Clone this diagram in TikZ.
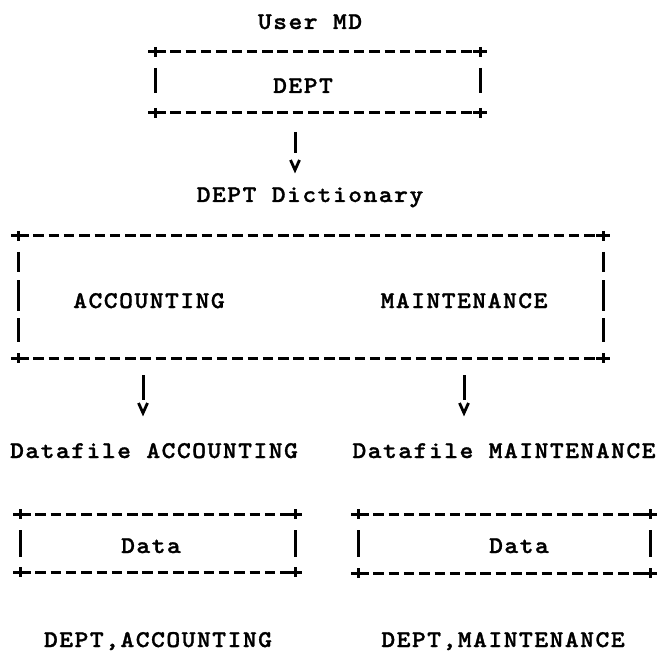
\documentclass[tikz,border=0pt]{standalone}
\usepackage{fontspec}
\newfontfamily\tw{lmmonolt10-bold.otf}[FakeStretch=1.1,FakeBold=1.2,LetterSpace=6]
\tikzset{
  txt/.style={font=\tw\fontsize{24pt}{24pt}\selectfont, inner sep=0pt, anchor=base},
  dashln/.style={line width=3pt, dash pattern=on 10.5pt off 4.8pt},
  solidln/.style={line width=3pt},
  vhead/.style={line width=2.8pt, line join=miter},
}
% ascii-like box: left x, right x, top y, bottom y, list of bar segments ya/yb
\newcommand\asciibox[5]{%
  \draw[dashln] (#1,#3) -- (#2,#3);
  \draw[dashln] (#1,#4) -- (#2,#4);
  \foreach \cx in {#1,#2}{\foreach \cy in {#3,#4}{%
    \draw[solidln] (\cx-7,\cy) -- (\cx+7,\cy) (\cx,\cy-5) -- (\cx,\cy+5);}}
  \foreach \ya/\yb in {#5}{\draw[solidln] (#1,\ya) -- (#1,\yb) (#2,\ya) -- (#2,\yb);}
}
\begin{document}
\begin{tikzpicture}[x=1pt,y=-1pt]
\useasboundingbox (0,0) rectangle (658,652);

% top box
\node[txt] (user) at (310,29) {User MD};
\asciibox{155}{480}{52}{113}{68/93}
\node[txt] (dept) at (303,93) {DEPT};

% arrow 1
\coordinate (a1s) at (295,132);
\coordinate (a1e) at (295,153);
\draw[solidln] (a1s) -- (a1e);
\draw[vhead] (290.5,160) -- (295,170) -- (299.5,160);

\node[txt] (dict) at (310,202) {DEPT Dictionary};

% big box
\asciibox{18}{603}{236}{358}{252/272,280/311,318/342}
\node[txt] (acc) at (149,308) {ACCOUNTING};
\node[txt] (mnt) at (464,308) {MAINTENANCE};

% arrows 2 and 3
\coordinate (a2s) at (143,375);
\coordinate (a2e) at (143,400);
\draw[solidln] (a2s) -- (a2e);
\draw[vhead] (138.5,403) -- (143,413) -- (147.5,403);
\coordinate (a3s) at (464,375);
\coordinate (a3e) at (464,400);
\draw[solidln] (a3s) -- (a3e);
\draw[vhead] (459.5,403) -- (464,413) -- (468.5,403);

\node[txt] (dfa) at (154,458) {Datafile ACCOUNTING};
\node[txt] (dfm) at (504,458) {Datafile MAINTENANCE};

% small boxes
\asciibox{20}{295}{514}{572}{530/557}
\node[txt] (dataa) at (151,553) {Data};
\asciibox{358}{650}{514}{573}{530/557}
\node[txt] (datam) at (519,553) {Data};

\node[txt] (da) at (158,647) {DEPT,ACCOUNTING};
\node[txt] (dm) at (503,647) {DEPT,MAINTENANCE};
\end{tikzpicture}
\end{document}
